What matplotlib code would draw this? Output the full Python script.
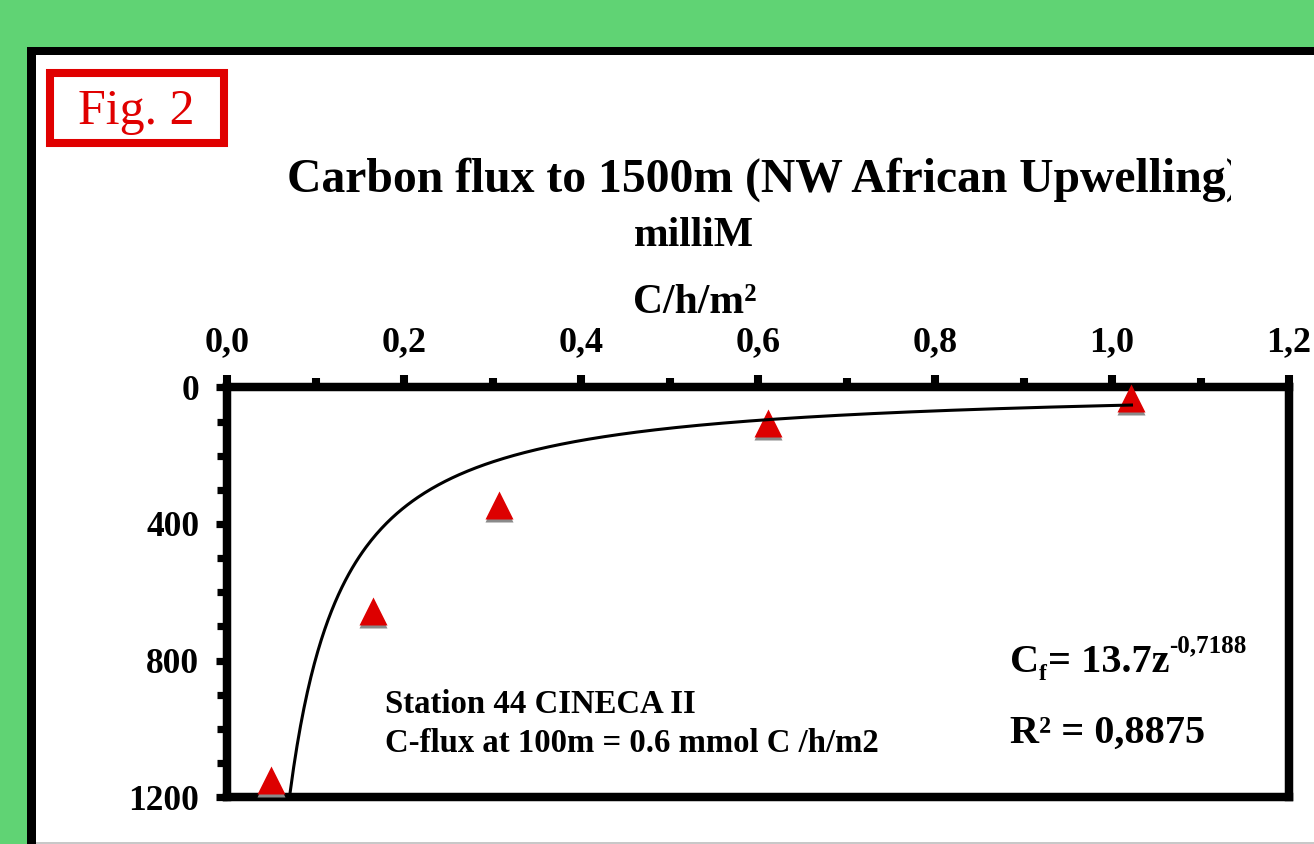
import matplotlib
matplotlib.use("Agg")
import matplotlib.pyplot as plt
import numpy as np
from matplotlib.patches import Rectangle
from matplotlib.ticker import FixedLocator, FixedFormatter, MultipleLocator
import matplotlib.transforms as mtransforms

# ---- data ----
flux = [0.050, 0.165, 0.307, 0.611, 1.022]     # mmol C/h/m2
depth = [1150, 655, 345, 105, 30]               # m
x_ticks = [0.0, 0.2, 0.4, 0.6, 0.8, 1.0, 1.2]
x_tick_labels = ["0,0", "0,2", "0,4", "0,6", "0,8", "1,0", "1,2"]
y_ticks = [0, 400, 800, 1200]
y_tick_labels = ["0", "400", "800", "1200"]

SERIF = "Liberation Serif"
plt.rcParams["font.family"] = [SERIF, "DejaVu Serif"]

W, H = 1314, 844
fig = plt.figure(figsize=(W / 100, H / 100), dpi=100)
fig.patch.set_facecolor("#60d374")


def fx(x):
    return x / W


def fy(y):
    return 1 - y / H


def rect_px(x0, y0, x1, y1, z=-5, **kw):
    r = Rectangle((fx(x0), fy(y1)), (x1 - x0) / W, (y1 - y0) / H,
                  transform=fig.transFigure, zorder=z, **kw)
    fig.patches.append(r)
    return r


# black frame + white panel
rect_px(27, 47, 1340, 870, facecolor="black", edgecolor="none")
rect_px(36, 55, 1340, 870, facecolor="white", edgecolor="none")
rect_px(36, 842, 1340, 844, facecolor="#c8c8c8", edgecolor="none")

# Fig. 2 box
rect_px(50, 73, 224, 143, facecolor="none", edgecolor="#e00000", linewidth=5.8)
fig.text(fx(136), fy(124), "Fig. 2", color="#e00000", fontsize=36,
         ha="center", va="baseline", family=SERIF)

# axes
ax = fig.add_axes([fx(227), fy(797), (1289 - 227) / W, (797 - 387.5) / H])
ax.set_facecolor("white")
ax.set_xlim(0, 1.2)
ax.set_ylim(1200, 0)
for s in ax.spines.values():
    s.set_linewidth(6.1)
    s.set_color("black")

ax.xaxis.tick_top()
ax.xaxis.set_major_locator(FixedLocator(x_ticks))
ax.xaxis.set_major_formatter(FixedFormatter(x_tick_labels))
ax.xaxis.set_minor_locator(MultipleLocator(0.1))
ax.yaxis.set_major_locator(FixedLocator(y_ticks))
ax.yaxis.set_major_formatter(FixedFormatter(y_tick_labels))
ax.yaxis.set_minor_locator(MultipleLocator(100))

ax.tick_params(axis="x", which="major", direction="out", length=8.3, width=5.8,
               pad=12, labelsize=26, top=True, bottom=False)
ax.tick_params(axis="x", which="minor", direction="out", length=6.8, width=5.8,
               top=True, bottom=False)
ax.tick_params(axis="y", which="major", direction="out", length=8.0, width=5.2,
               pad=12, labelsize=25.5, left=True, right=False)
ax.tick_params(axis="y", which="minor", direction="out", length=7.5, width=5.2,
               left=True, right=False)
for lab in ax.get_xticklabels() + ax.get_yticklabels():
    lab.set_fontweight("bold")
    lab.set_family(SERIF)

# markers with grey shadow
shadow = mtransforms.offset_copy(ax.transData, fig=fig, x=0, y=-3, units="dots")
ax.plot(flux, depth, linestyle="none", marker="^", ms=20, color="#8a8a8a",
        mec="none", transform=shadow, clip_on=False, zorder=3)
ax.plot(flux, depth, linestyle="none", marker="^", ms=20, color="#dd0000",
        mec="none", clip_on=False, zorder=3.5)

# power trendline fitted to the data (depth = a * flux^b)
coef = np.polyfit(np.log(flux), np.log(depth), 1)
xs = np.linspace(min(flux), max(flux), 500)
zs = np.exp(np.polyval(coef, np.log(xs)))
ax.plot(xs, zs, color="black", lw=2.2, zorder=4)

# titles
fig.text(fx(287), fy(192), "Carbon flux to 1500m (NW African Upwelling)",
         fontsize=34.3, fontweight="bold", family=SERIF, ha="left", va="baseline")
# the title box clips the closing parenthesis in the original
rect_px(1231, 145, 1260, 210, z=10, facecolor="white", edgecolor="none")
fig.text(fx(694), fy(246), "milliM", fontsize=30, fontweight="bold", family=SERIF,
         ha="center", va="baseline")
fig.text(fx(695), fy(313), "C/h/m²", fontsize=30, fontweight="bold", family=SERIF,
         ha="center", va="baseline")

# annotations
fig.text(fx(385), fy(713), "Station 44 CINECA II", fontsize=23.6, fontweight="bold",
         family=SERIF, ha="left", va="baseline")
fig.text(fx(385), fy(752), "C-flux at 100m = 0.6 mmol C /h/m2", fontsize=23.6,
         fontweight="bold", family=SERIF, ha="left", va="baseline")

# fit equation, built from pieces
fig.canvas.draw()
renderer = fig.canvas.get_renderer()


def piece(x, y, s, size):
    tt = fig.text(fx(x), fy(y), s, fontsize=size, fontweight="bold", family=SERIF,
                  ha="left", va="baseline")
    bb = tt.get_window_extent(renderer)
    return x + bb.width


x = piece(1010, 672, "C", 29)
x = piece(x, 680, "f", 17)
x = piece(x + 1, 672, "= 13.7z", 29)
piece(x, 652, "-0,7188", 18)
fig.text(fx(1010), fy(743), "R² = 0,8875", fontsize=29, fontweight="bold",
         family=SERIF, ha="left", va="baseline")

fig.savefig("out.png", dpi=100, facecolor=fig.get_facecolor())
